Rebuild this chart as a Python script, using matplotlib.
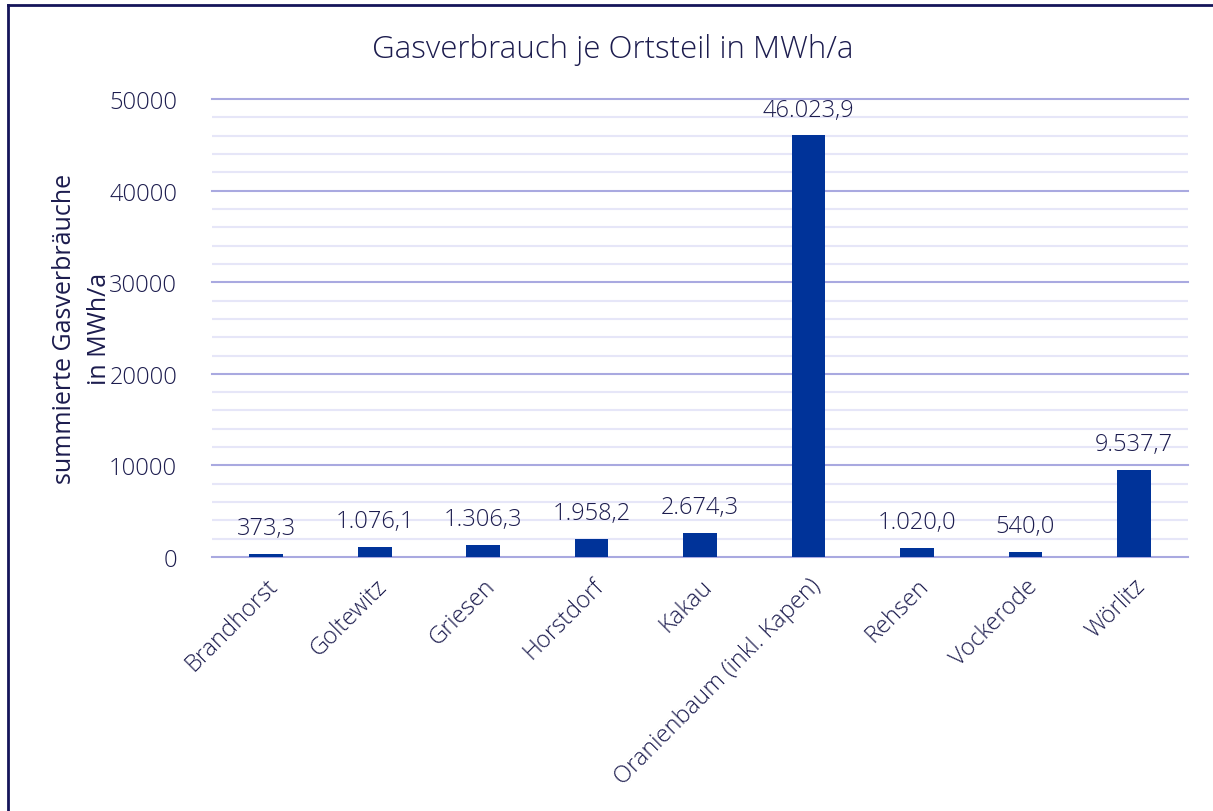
import matplotlib.pyplot as plt
from matplotlib.lines import Line2D
from matplotlib.ticker import MultipleLocator

ortsteile = ['Brandhorst', 'Goltewitz', 'Griesen', 'Horstdorf', 'Kakau',
             'Oranienbaum (inkl. Kapen)', 'Rehsen', 'Vockerode', 'Wörlitz']
verbrauch = [373.3, 1076.1, 1306.3, 1958.2, 2674.3, 46023.9, 1020.0, 540.0, 9537.7]

navy = '#003399'
textfarbe = '#1c1c4e'

plt.rcParams['font.family'] = ['Open Sans', 'DejaVu Sans']
plt.rcParams['font.weight'] = 'light'

def deutsch(wert):
    s = f'{wert:,.1f}'
    return s.replace(',', 'X').replace('.', ',').replace('X', '.')

fig = plt.figure(figsize=(12.13, 8.12), dpi=100)
ax = fig.add_axes([0.1748, 0.3128, 0.8046, 0.564])

x = range(len(ortsteile))
balken = ax.bar(x, verbrauch, width=0.31, color=navy, zorder=3)
ax.bar_label(balken, labels=[deutsch(v) for v in verbrauch], padding=10,
             fontsize=17, color=textfarbe)

ax.set_xlim(-0.5, len(ortsteile) - 0.5)
ax.set_ylim(0, 50000)
ax.yaxis.set_major_locator(MultipleLocator(10000))
ax.yaxis.set_minor_locator(MultipleLocator(2000))
ax.grid(which='major', axis='y', color='#a9a9e0', linewidth=1.5, zorder=0)
ax.grid(which='minor', axis='y', color='#e6e6f8', linewidth=1.5, zorder=0)
for linie in ax.get_ygridlines():
    linie.set_clip_on(False)
for s in ax.spines.values():
    s.set_visible(False)
ax.tick_params(axis='both', which='both', length=0, colors=textfarbe, labelsize=17)
ax.tick_params(axis='y', pad=25)
ax.set_xticks(list(x))
ax.set_xticklabels(ortsteile, rotation=45, ha='right', rotation_mode='anchor')
ax.tick_params(axis='x', pad=12)

ax.set_ylabel('summierte Gasverbräuche\nin MWh/a', fontsize=18, color=textfarbe,
              labelpad=-2, linespacing=1.55)
fig.text(0.505, 0.938, 'Gasverbrauch je Ortsteil in MWh/a', ha='center', va='center',
         fontsize=22.5, color=textfarbe)

# Rahmen links und oben
fig.add_artist(Line2D([0.0066, 0.0066], [0, 0.9926], transform=fig.transFigure,
                      color='#15155a', linewidth=2))
fig.add_artist(Line2D([0.0066, 1.0], [0.9926, 0.9926], transform=fig.transFigure,
                      color='#15155a', linewidth=2))

fig.savefig('out.png', dpi=100)
